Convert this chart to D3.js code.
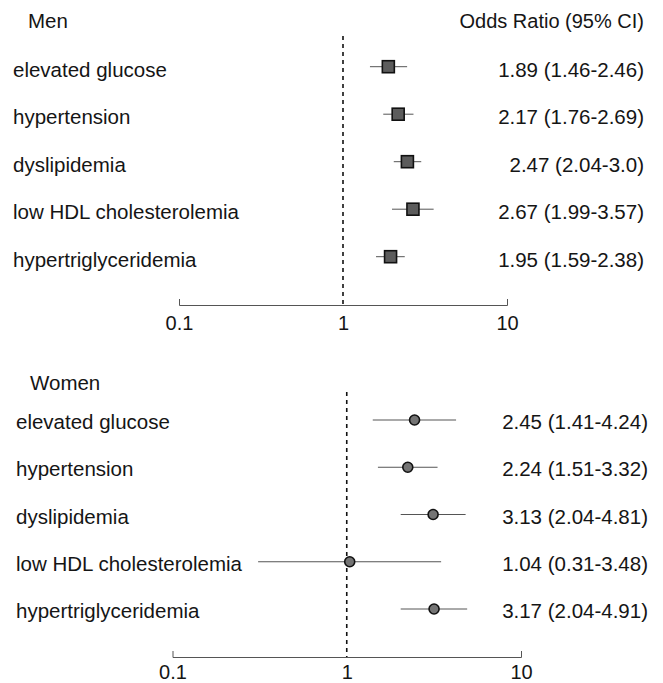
<!DOCTYPE html>
<html>
<head>
<meta charset="utf-8">
<script src="https://cdn.jsdelivr.net/npm/d3@7"></script>
<style>
  body { margin: 0; background: #fff; }
  svg text { font-family: "Liberation Sans", Arial, Helvetica, sans-serif; fill: #151515; }
</style>
</head>
<body>
<div id="chart"></div>
<script>
// Outcomes shared by both panels
const outcomes = ["elevated glucose", "hypertension", "dyslipidemia", "low HDL cholesterolemia", "hypertriglyceridemia"];

// Men
const menOR = [1.89, 2.17, 2.47, 2.67, 1.95];
const menLow = [1.46, 1.76, 2.04, 1.99, 1.59];
const menHigh = [2.46, 2.69, 3.0, 3.57, 2.38];
const menText = ["1.89 (1.46-2.46)", "2.17 (1.76-2.69)", "2.47 (2.04-3.0)", "2.67 (1.99-3.57)", "1.95 (1.59-2.38)"];

// Women
const womenOR = [2.45, 2.24, 3.13, 1.04, 3.17];
const womenLow = [1.41, 1.51, 2.04, 0.31, 2.04];
const womenHigh = [4.24, 3.32, 4.81, 3.48, 4.91];
const womenText = ["2.45 (1.41-4.24)", "2.24 (1.51-3.32)", "3.13 (2.04-4.81)", "1.04 (0.31-3.48)", "3.17 (2.04-4.91)"];

const tickValues = [0.1, 1, 10];

const svg = d3.select("#chart")
    .append("svg")
    .attr("width", 663)
    .attr("height", 683);

function drawPanel(cfg) {
    const rows = outcomes.map((name, i) => ({
        name,
        or: cfg.or[i],
        lo: cfg.lo[i],
        hi: cfg.hi[i],
        text: cfg.text[i]
    }));

    const x = d3.scaleLog().domain([0.1, 10]).range(cfg.xRange);
    const y = d3.scalePoint().domain(outcomes).range(cfg.yRange);

    const g = svg.append("g");

    // Panel title and header
    g.append("text")
        .attr("x", cfg.titleX)
        .attr("y", cfg.titleY)
        .style("font-size", "20.5px")
        .text(cfg.title);

    if (cfg.header) {
        g.append("text")
            .attr("x", 644)
            .attr("y", cfg.titleY)
            .attr("text-anchor", "end")
            .style("font-size", "20px")
            .text(cfg.header);
    }

    // Reference line at OR = 1
    g.append("line")
        .attr("x1", x(1)).attr("x2", x(1))
        .attr("y1", cfg.refTop).attr("y2", cfg.axisY)
        .style("stroke", "#111")
        .style("stroke-width", 1.6)
        .style("stroke-dasharray", "4,4");

    // Axis (end ticks point up, labels below)
    const axis = d3.axisBottom(x)
        .tickValues(tickValues)
        .tickFormat(d => d === 0.1 ? "0.1" : String(d))
        .tickSizeInner(0)
        .tickSizeOuter(-6)
        .tickPadding(cfg.tickPad);

    const ax = g.append("g")
        .attr("transform", `translate(0,${cfg.axisY})`)
        .call(axis);
    ax.select(".domain").style("stroke", "#555").style("stroke-width", 1);
    ax.selectAll(".tick line").remove();
    ax.selectAll(".tick text")
        .style("font-size", "20px")
        .style("font-family", "'Liberation Sans', Arial, sans-serif")
        .attr("fill", "#151515");

    // Row labels
    g.selectAll(".lbl")
        .data(rows)
        .join("text")
        .attr("class", "lbl")
        .attr("x", cfg.labelX)
        .attr("y", d => y(d.name) + cfg.textDy)
        .style("font-size", "20.5px")
        .text(d => d.name);

    // OR (95% CI) text
    g.selectAll(".ci-text")
        .data(rows)
        .join("text")
        .attr("class", "ci-text")
        .attr("x", cfg.textRight)
        .attr("y", d => y(d.name) + cfg.textDy)
        .attr("text-anchor", "end")
        .style("font-size", "20.5px")
        .text(d => d.text);

    // CI lines
    g.selectAll(".ci")
        .data(rows)
        .join("line")
        .attr("class", "ci")
        .attr("x1", d => x(d.lo))
        .attr("x2", d => x(d.hi))
        .attr("y1", d => y(d.name))
        .attr("y2", d => y(d.name))
        .style("stroke", "#555")
        .style("stroke-width", 1);

    // Point estimates
    if (cfg.shape === "square") {
        const s = 12;
        g.selectAll(".pt")
            .data(rows)
            .join("rect")
            .attr("class", "pt")
            .attr("x", d => x(d.or) - s / 2)
            .attr("y", d => y(d.name) - s / 2)
            .attr("width", s)
            .attr("height", s)
            .style("fill", "#5c5c5c")
            .style("stroke", "#111")
            .style("stroke-width", 1.6);
    } else {
        g.selectAll(".pt")
            .data(rows)
            .join("circle")
            .attr("class", "pt")
            .attr("cx", d => x(d.or))
            .attr("cy", d => y(d.name))
            .attr("r", 5)
            .style("fill", "#747474")
            .style("stroke", "#111")
            .style("stroke-width", 1.6);
    }
}

drawPanel({
    title: "Men",
    header: "Odds Ratio (95% CI)",
    titleX: 28, titleY: 28,
    or: menOR, lo: menLow, hi: menHigh, text: menText,
    xRange: [179, 507],
    yRange: [66.7, 256.7],
    refTop: 36, axisY: 305,
    tickPad: 11,
    labelX: 13, textRight: 644, textDy: 10,
    shape: "square"
});

drawPanel({
    title: "Women",
    header: null,
    titleX: 30, titleY: 390,
    or: womenOR, lo: womenLow, hi: womenHigh, text: womenText,
    xRange: [172.5, 521],
    yRange: [420, 609],
    refTop: 392, axisY: 657,
    tickPad: 8,
    labelX: 16, textRight: 648, textDy: 9,
    shape: "circle"
});
</script>
</body>
</html>
